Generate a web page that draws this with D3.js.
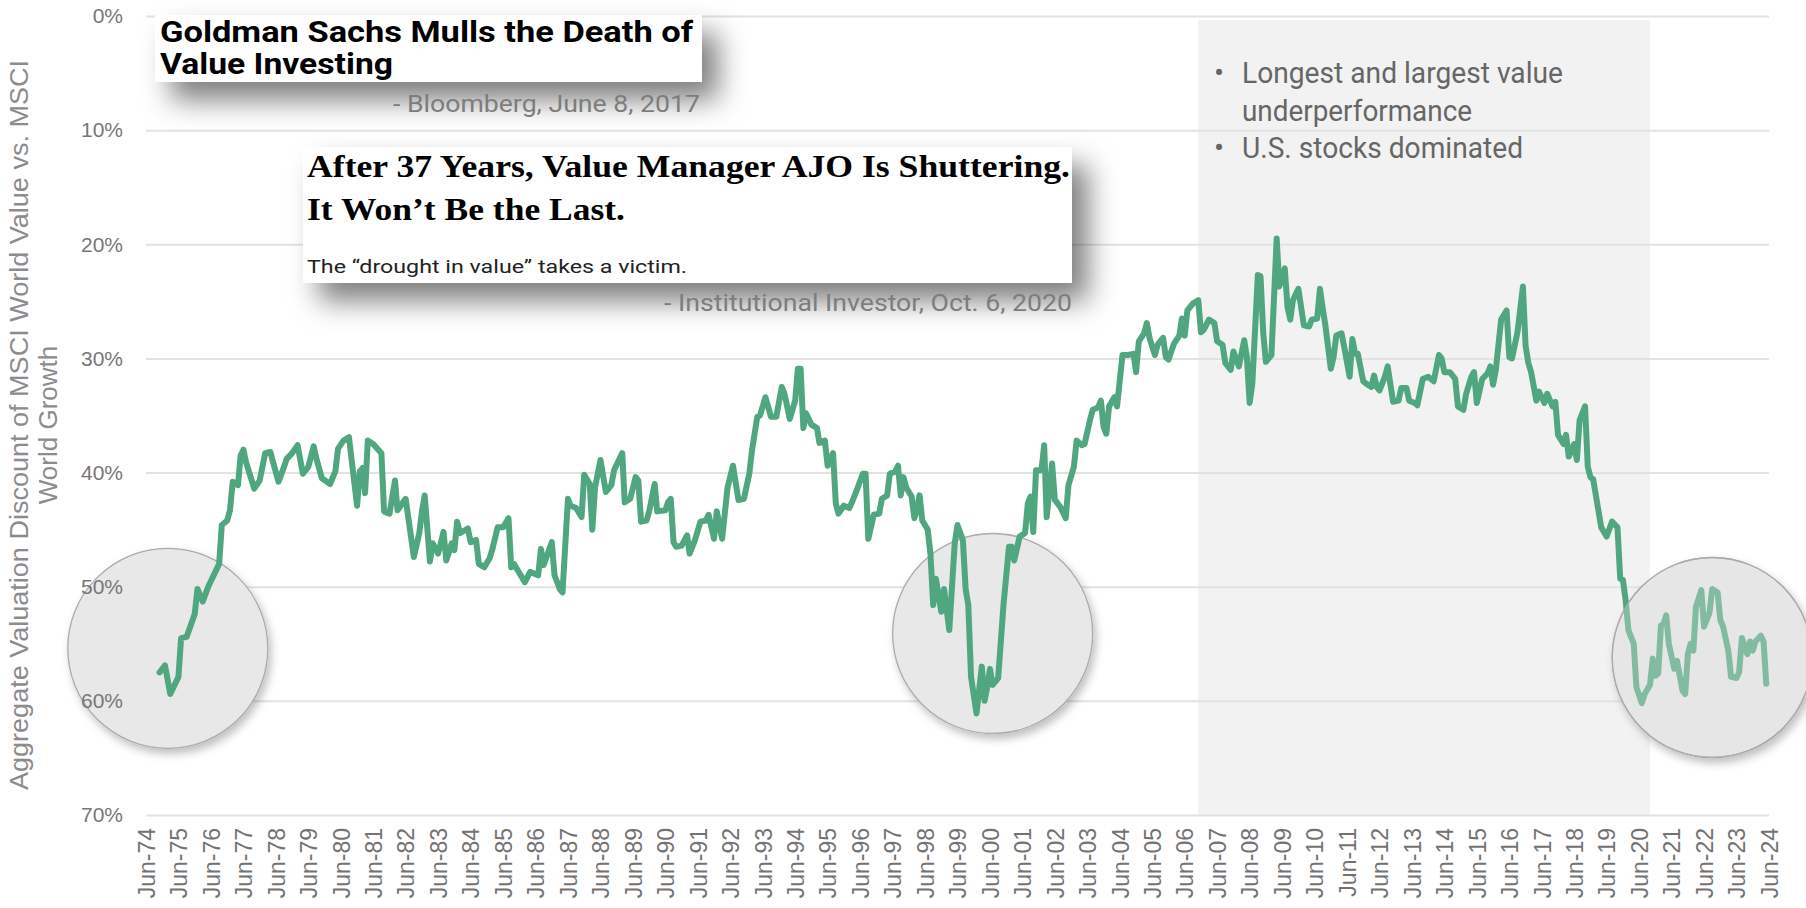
<!DOCTYPE html>
<html>
<head>
<meta charset="utf-8">
<script src="https://cdn.jsdelivr.net/npm/d3@7"></script>
<style>
  body { margin: 0; background: #fff; }
  svg { display: block; }
</style>
</head>
<body>
<svg id="chart" width="1806" height="908"></svg>
<script>
// months are counted from startMonth (Jun-74), values are the discount in %
const startMonth = "1974-06";
const endMonth = "2024-06";
const yTicks = [0, 10, 20, 30, 40, 50, 60, 70];
const xTickYears = d3.range(1974, 2025);
const shadeRange = ["2006-11", "2020-10"];
const yTitleLines = ["Aggregate Valuation Discount of MSCI World Value vs. MSCI", "World Growth"];
const bullets = ["Longest and largest value", "underperformance", "U.S. stocks dominated"];
const callouts = [
    { date: "1975-02", value: 55.4, overLine: false },
    { date: "2000-07", value: 54.1, overLine: false },
    { date: "2022-09", value: 56.2, overLine: true }
];
const discountSeries = [
    [5,57.5],[7,56.9],[9,59.4],[12,57.9],[13,54.5],[15,54.4],[18,52.4],[19,50.2],[21,51.3],[23,50.0],
    [27,48.0],[28,44.6],[30,44.2],[31,43.3],[32,40.8],[34,41.1],[35,38.5],[36,38.0],[37,39.1],[40,41.4],
    [42,40.7],[44,38.3],[46,38.2],[47,39.1],[49,40.8],[51,39.5],[52,38.8],[54,38.3],[56,37.6],[58,40.1],
    [60,39.5],[62,37.7],[63,38.8],[65,40.5],[68,41.0],[70,39.9],[71,37.9],[73,37.2],[75,36.9],[76,38.9],
    [78,42.9],[79,39.9],[80,39.6],[81,41.8],[82,37.2],[84,37.5],[87,38.3],[88,43.4],[90,43.6],[92,40.7],
    [93,43.3],[96,42.3],[99,47.4],[101,45.3],[102,43.4],[103,42.0],[105,47.8],[106,46.2],[108,47.1],[110,45.2],
    [111,47.7],[113,46.2],[114,46.8],[115,44.3],[116,45.3],[119,44.9],[120,46.1],[122,45.9],[123,48.0],[125,48.3],
    [127,47.5],[128,46.7],[130,44.8],[132,44.8],[134,44.0],[135,48.3],[136,48.0],[138,48.8],[140,49.6],[142,48.7],
    [145,49.0],[146,46.7],[147,48.1],[150,46.1],[151,49.0],[153,50.2],[154,50.5],[156,42.3],[157,42.9],[159,43.1],
    [161,43.9],[162,40.2],[164,41.0],[165,45.0],[166,41.3],[168,38.9],[170,41.7],[172,41.1],[173,39.8],
    [176,38.3],[177,42.6],[179,42.3],[181,40.4],[182,40.7],[183,44.3],[185,44.2],[186,43.4],[188,41.0],[189,43.4],
    [192,43.3],[193,42.6],[194,42.3],[195,46.1],[196,46.5],[198,46.4],[200,45.5],[201,47.1],[203,45.9],[205,44.3],
    [207,44.2],[208,43.7],[210,45.8],[211,43.4],[213,45.8],[215,41.3],[217,39.4],[219,42.4],[221,42.3],[223,40.1],
    [224,38.0],[226,35.1],[227,35.0],[229,33.4],[231,35.1],[233,35.1],[235,32.5],[236,33.1],[238,35.3],[240,33.7],
    [241,30.9],[242,30.9],[243,36.1],[244,34.8],[246,35.8],[248,36.1],[249,37.4],[251,37.2],[252,39.4],[254,38.3],
    [255,42.7],[256,43.6],[258,42.9],[260,43.1],[261,42.6],[263,41.4],[265,40.1],[266,40.1],[267,45.8],[269,43.7],
    [271,43.6],[272,42.3],[274,42.0],[275,40.1],[277,39.9],[278,39.4],[279,42.0],[280,40.4],[281,41.3],[283,42.1],
    [284,44.0],[285,43.3],[286,42.0],[287,44.2],[289,45.0],[290,47.1],[291,51.6],[292,49.3],[294,52.2],[295,50.2],
    [297,53.8],[299,46.2],[300,44.6],[302,45.9],[303,50.2],[304,51.6],[305,57.9],[307,61.1],[309,57.0],[310,60.0],
    [311,58.8],[312,57.2],[313,58.6],[315,58.0],[317,51.5],[319,46.5],[320,46.5],[321,47.7],
    [323,45.6],[325,45.3],[326,42.7],[327,42.1],[328,45.2],[329,39.8],[331,39.8],[332,37.6],[333,43.9],[335,39.2],
    [336,42.4],[338,43.0],[340,44.0],[341,41.1],[343,39.5],[344,37.2],[346,37.6],[347,37.5],[349,35.4],[350,34.5],
    [352,34.3],[353,33.7],[354,36.0],[355,36.6],[356,34.2],[358,33.4],[359,34.2],[360,31.9],[361,29.7],[363,29.7],
    [365,29.6],[366,31.2],[367,28.5],[369,27.8],[370,26.9],[371,28.2],[373,29.7],[374,28.8],[376,28.2],[377,29.9],
    [378,30.1],[380,28.7],[382,28.0],[383,26.5],[384,28.0],[385,25.8],[387,25.2],[389,24.9],[390,27.7],[391,27.5],
    [393,26.6],[395,26.9],[396,28.5],[398,28.8],[399,30.4],[401,31.0],[402,29.4],[404,30.7],[406,28.4],[407,29.9],
    [408,33.9],[409,32.2],[411,22.7],[412,22.8],[413,27.8],[414,30.3],[416,29.7],[417,24.9],[418,19.5],[419,23.7],
    [421,22.1],[422,25.5],[423,26.6],[424,24.9],[426,23.9],[428,27.1],[430,27.2],[431,26.6],[433,26.5],[434,23.9],
    [435,25.6],[436,27.1],[438,30.9],[439,29.9],[440,28.0],[442,27.8],[443,29.0],[445,31.6],[446,28.3],[447,29.6],
    [448,29.6],[450,32.0],[451,32.2],[453,32.5],[454,31.5],[455,32.5],[456,32.8],[458,31.6],[459,30.7],[461,33.8],
    [463,33.7],[464,32.6],[466,32.6],[467,33.7],[469,33.9],[470,34.1],
    [472,31.8],[474,31.6],[476,32.0],[478,29.7],[479,30.0],[480,31.2],[482,31.2],[484,31.8],[485,34.2],[487,34.5],
    [488,33.1],[490,31.6],[491,31.2],[492,33.9],[494,31.8],[496,31.3],[497,30.7],[498,32.3],[499,31.0],[501,26.6],
    [503,25.8],[504,29.9],[505,30.0],[507,27.7],[509,23.7],[510,28.9],[511,30.4],[512,31.2],[514,33.7],[515,32.9],
    [517,33.9],[518,33.1],[520,34.2],[521,33.8],[522,36.7],[524,37.5],[525,36.7],[526,38.6],[528,37.5],[529,38.9],
    [530,35.4],[532,34.2],[533,39.5],[534,40.4],[535,40.6],[538,44.8],[540,45.6],[542,44.3],[544,44.8],[545,49.3],
    [546,49.4],[547,51.2],[548,53.8],[550,55.0],[551,58.8],[553,60.2],[554,59.4],[556,58.6],[557,56.3],[558,57.8],
    [559,57.6],[560,53.4],[561,53.3],[562,52.5],[563,55.0],[565,57.2],[566,56.5],[568,59.1],[569,59.4],[570,55.9],
    [571,55.0],[572,55.6],[573,51.8],[575,50.3],[576,53.5],[578,52.3],[579,50.2],[581,50.5],[582,52.9],[583,53.5],
    [585,55.6],[586,57.9],[588,58.0],[589,57.5],[590,54.5],[592,55.9],[593,54.8],[594,55.6],[595,54.8],[597,54.3],
    [598,54.8],[599,58.5]
];

const svg = d3.select("#chart");
const parseMonth = d3.timeParse("%Y-%m");
const origin = parseMonth(startMonth);
const left = 146, right = 1769;
const axisFont = "'Liberation Sans', Arial, sans-serif";

const x = d3.scaleTime().domain([origin, parseMonth(endMonth)]).range([left, right]);
const y = d3.scaleLinear().domain([0, 70]).range([16, 815]);

const points = discountSeries.map(d => ({ date: d3.timeMonth.offset(origin, d[0]), v: d[1] }));

const defs = svg.append("defs");
defs.append("filter").attr("id", "boxShadow")
    .attr("x", "-15%").attr("y", "-40%").attr("width", "145%").attr("height", "220%")
    .append("feDropShadow")
    .attr("dx", 16).attr("dy", 18).attr("stdDeviation", 14)
    .attr("flood-color", "#000").attr("flood-opacity", 0.5);
defs.append("filter").attr("id", "circleShadow")
    .attr("x", "-20%").attr("y", "-20%").attr("width", "150%").attr("height", "150%")
    .append("feDropShadow")
    .attr("dx", 3).attr("dy", 5).attr("stdDeviation", 4)
    .attr("flood-color", "#000").attr("flood-opacity", 0.25);

// shaded period
svg.append("rect")
    .attr("x", x(parseMonth(shadeRange[0])))
    .attr("y", 20)
    .attr("width", x(parseMonth(shadeRange[1])) - x(parseMonth(shadeRange[0])))
    .attr("height", y(70) - 20)
    .attr("fill", "#f2f2f2");

// gridlines
svg.append("g")
    .attr("transform", `translate(${left},0)`)
    .call(d3.axisLeft(y).tickValues(yTicks).tickSize(-(right - left)).tickFormat(""))
    .call(g => g.select(".domain").remove())
    .call(g => g.selectAll("line").attr("stroke", "#e2e2e2").attr("stroke-width", 2));

function drawCircle(c) {
    svg.append("circle")
        .attr("cx", x(parseMonth(c.date)))
        .attr("cy", y(c.value))
        .attr("r", 100)
        .attr("fill", "#e8e8e8")
        .attr("stroke", "#ababab")
        .attr("stroke-width", 1.3)
        .attr("filter", "url(#circleShadow)");
}
callouts.forEach(drawCircle);

const line = d3.line().x(d => x(d.date)).y(d => y(d.v));
svg.append("path")
    .datum(points)
    .attr("d", line)
    .attr("fill", "none")
    .attr("stroke", "#50a67f")
    .attr("stroke-width", 6)
    .attr("stroke-linejoin", "round")
    .attr("stroke-linecap", "round");

// the last callout sits on top of the line and washes it out a bit
callouts.filter(c => c.overLine).forEach(c => {
    svg.append("circle")
        .attr("cx", x(parseMonth(c.date)))
        .attr("cy", y(c.value))
        .attr("r", 100)
        .attr("fill", "rgba(225,225,225,0.35)")
        .attr("stroke", "#ababab")
        .attr("stroke-width", 1.3);
});

// y tick labels
svg.append("g")
    .attr("transform", `translate(${left},0)`)
    .call(d3.axisLeft(y).tickValues(yTicks).tickSize(0).tickPadding(23).tickFormat(d => d + "%"))
    .attr("font-family", axisFont)
    .attr("font-size", 21)
    .call(g => g.select(".domain").remove())
    .call(g => g.selectAll("text").attr("fill", "#777"));

// x tick labels
svg.append("g")
    .attr("transform", `translate(0,${y(70)})`)
    .call(d3.axisBottom(x)
        .tickValues(xTickYears.map(yr => new Date(yr, 5, 1)))
        .tickSize(0)
        .tickFormat(d3.timeFormat("%b-%y")))
    .attr("font-family", axisFont)
    .attr("font-size", 23)
    .call(g => g.select(".domain").remove())
    .selectAll("text")
    .attr("fill", "#737373")
    .attr("transform", "rotate(-90)")
    .attr("text-anchor", "end")
    .attr("x", -13)
    .attr("y", 0)
    .attr("dy", "0.36em");

// y title
svg.append("g")
    .attr("transform", "translate(0,425) rotate(-90)")
    .selectAll("text")
    .data(yTitleLines)
    .join("text")
    .attr("x", 0)
    .attr("y", (d, i) => 28 + i * 29)
    .attr("text-anchor", "middle")
    .attr("font-family", axisFont)
    .attr("font-size", 26)
    .attr("fill", "#8c8c8c")
    .attr("textLength", (d, i) => i == 0 ? 730 : null)
    .attr("lengthAdjust", "spacingAndGlyphs")
    .text(d => d);

// headline 1
svg.append("rect").attr("x", 155).attr("y", 15).attr("width", 547).attr("height", 67)
    .attr("fill", "#fff").attr("filter", "url(#boxShadow)");
const h1 = svg.append("g")
    .attr("font-family", "Roboto, 'Liberation Sans', sans-serif")
    .attr("font-weight", 700)
    .attr("font-size", 30)
    .attr("fill", "#000");
h1.append("text").attr("x", 160).attr("y", 42).attr("textLength", 533).attr("lengthAdjust", "spacingAndGlyphs")
    .text("Goldman Sachs Mulls the Death of");
h1.append("text").attr("x", 160).attr("y", 74).attr("textLength", 233).attr("lengthAdjust", "spacingAndGlyphs")
    .text("Value Investing");
svg.append("text").attr("x", 700).attr("y", 112)
    .attr("text-anchor", "end")
    .attr("font-family", "Roboto, sans-serif").attr("font-size", 24).attr("fill", "#7d7d7d")
    .attr("textLength", 307).attr("lengthAdjust", "spacingAndGlyphs")
    .text("- Bloomberg, June 8, 2017");

// headline 2
svg.append("rect").attr("x", 303).attr("y", 147).attr("width", 769).attr("height", 136)
    .attr("fill", "#fff").attr("filter", "url(#boxShadow)");
const h2 = svg.append("g")
    .attr("font-family", "'Liberation Serif', 'DejaVu Serif', serif")
    .attr("font-weight", 700)
    .attr("font-size", 32)
    .attr("fill", "#000");
h2.append("text").attr("x", 307).attr("y", 177).attr("textLength", 763).attr("lengthAdjust", "spacingAndGlyphs")
    .text("After 37 Years, Value Manager AJO Is Shuttering.");
h2.append("text").attr("x", 307).attr("y", 220).attr("textLength", 318).attr("lengthAdjust", "spacingAndGlyphs")
    .text("It Won\u2019t Be the Last.");
svg.append("text").attr("x", 307).attr("y", 273)
    .attr("font-family", "Roboto, sans-serif").attr("font-size", 19).attr("fill", "#222")
    .attr("textLength", 380).attr("lengthAdjust", "spacingAndGlyphs")
    .text("The \u201cdrought in value\u201d takes a victim.");
svg.append("text").attr("x", 1072).attr("y", 311)
    .attr("text-anchor", "end")
    .attr("font-family", "Roboto, sans-serif").attr("font-size", 24).attr("fill", "#7d7d7d")
    .attr("textLength", 408).attr("lengthAdjust", "spacingAndGlyphs")
    .text("- Institutional Investor, Oct. 6, 2020");

// bullet notes in the shaded period
const bulletY = [83, 121, 158];
const bulletLen = [321, 230, 281];
const notes = svg.append("g")
    .attr("font-family", "Roboto, sans-serif")
    .attr("font-size", 30)
    .attr("fill", "#666");
bullets.forEach((b, i) => {
    if (i != 1) {
        notes.append("text").attr("x", 1214).attr("y", bulletY[i]).text("\u2022");
    }
    notes.append("text").attr("x", 1242).attr("y", bulletY[i])
        .attr("textLength", bulletLen[i]).attr("lengthAdjust", "spacingAndGlyphs")
        .text(b);
});
</script>
</body>
</html>
